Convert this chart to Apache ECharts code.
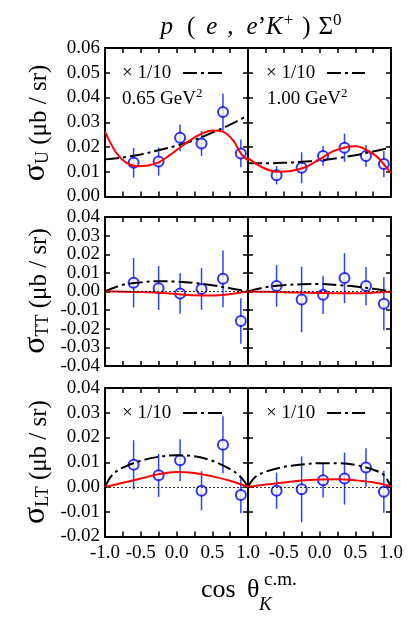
<!DOCTYPE html>
<html><head><meta charset="utf-8">
<script src="https://cdn.jsdelivr.net/npm/echarts@6/dist/echarts.min.js"></script>
<style>html,body{margin:0;padding:0;background:#fff}#c{width:409px;height:626px}</style>
</head><body><div id="c"></div>
<script>
// ---- data ----
const cosTheta = [-0.60, -0.25, 0.05, 0.35, 0.65, 0.90];

const uLeft     = [0.0136, 0.0141, 0.0237, 0.0214, 0.0341, 0.0174];
const uLeftErr  = [0.0060, 0.0057, 0.0054, 0.0050, 0.0075, 0.0056];
const uRight    = [0.0086, 0.0116, 0.0164, 0.0197, 0.0164, 0.0131];
const uRightErr = [0.0037, 0.0063, 0.0040, 0.0057, 0.0044, 0.0053];

const ttLeft     = [0.0047, 0.0018, -0.0011, 0.0014, 0.0068, -0.0158];
const ttLeftErr  = [0.0133, 0.0118, 0.0109, 0.0112, 0.0152, 0.0122];
const ttRight    = [0.0030, -0.0043, -0.0018, 0.0072, 0.0029, -0.0066];
const ttRightErr = [0.0112, 0.0176, 0.0103, 0.0134, 0.0103, 0.0142];

const ltLeft     = [0.0090, 0.0047, 0.0108, -0.0015, 0.0171, -0.0032];
const ltLeftErr  = [0.0099, 0.0087, 0.0085, 0.0079, 0.0115, 0.0074];
const ltRight    = [-0.0015, -0.0009, 0.0027, 0.0034, 0.0079, -0.0019];
const ltRightErr = [0.0073, 0.0133, 0.0069, 0.0105, 0.0078, 0.0085];

// model curves (read at sample points)
const curveX9  = [-1, -0.75, -0.5, -0.25, 0, 0.25, 0.5, 0.75, 1];
const curveX11 = [-1, -0.9, -0.75, -0.5, -0.25, 0, 0.25, 0.5, 0.75, 0.9, 1];

const uLeftRedX  = [-1, -0.85, -0.7, -0.55, -0.4, -0.25, -0.1, 0.05, 0.2, 0.35, 0.5, 0.65, 0.8, 0.9, 1.0];
const uLeftRed   = [0.0262, 0.0180, 0.0136, 0.0122, 0.0125, 0.0138, 0.0166, 0.0198, 0.0229, 0.0254, 0.0267, 0.0262, 0.0224, 0.0174, 0.0145];
const uLeftBlack = [0.0150, 0.0158, 0.0170, 0.0187, 0.0205, 0.0228, 0.0258, 0.0290, 0.0328];

const uRightRedX  = [-1, -0.8, -0.6, -0.4, -0.2, 0, 0.2, 0.4, 0.5, 0.6, 0.8, 0.9, 1.0];
const uRightRed   = [0.0155, 0.0118, 0.0100, 0.0103, 0.0118, 0.0150, 0.0184, 0.0201, 0.0203, 0.0197, 0.0162, 0.0130, 0.0094];
const uRightBlack = [0.0134, 0.0134, 0.0136, 0.0140, 0.0146, 0.0155, 0.0167, 0.0182, 0.0198];

const ttLeftRed    = [0, -0.0001, -0.0003, -0.0007, -0.0014, -0.0020, -0.0022, -0.0014, 0];
const ttLeftBlack  = [0, 0.0036, 0.0049, 0.0055, 0.0053, 0.0046, 0.0033, 0.0018, 0];
const ttRightRed   = [0, -0.0002, -0.0004, -0.0006, -0.0008, -0.0009, -0.0009, -0.0006, 0];
const ttRightBlack = [0, 0.0023, 0.0034, 0.0039, 0.0040, 0.0035, 0.0027, 0.0015, 0];

const ltLeftRed    = [0, 0.0017, 0.0034, 0.0052, 0.0061, 0.0057, 0.0043, 0.0025, 0];
const ltRightRed   = [0, 0.0010, 0.0018, 0.0026, 0.0030, 0.0031, 0.0027, 0.0019, 0.0003];
const ltLeftBlack  = [0, 0.0048, 0.0078, 0.0106, 0.0122, 0.0128, 0.0124, 0.0106, 0.0072, 0.0040, 0];
const ltRightBlack = [0, 0.0040, 0.0062, 0.0081, 0.0091, 0.0096, 0.0096, 0.0089, 0.0070, 0.0048, 0];

const yRanges = [[0, 0.06], [-0.04, 0.04], [-0.02, 0.04]];
const xTickLabels = ['-1.0', '-0.5', '0.0', '0.5', '1.0'];

// ---- chart ----
const FONT = '"Liberation Serif", "Times New Roman", serif';
const chart = echarts.init(document.getElementById('c'), null, {renderer: 'canvas'});

const rows = [{top: 48, height: 148.5}, {top: 217, height: 149}, {top: 388, height: 148.5}];
const cols = [{left: 105, width: 143}, {left: 248, width: 143}];

const zip = (xs, ys) => xs.map((x, i) => [x, ys[i]]);

const panels = [
  {pts: uLeft,  err: uLeftErr,  red: zip(uLeftRedX, uLeftRed),   black: zip(curveX9, uLeftBlack),   zero: false},
  {pts: uRight, err: uRightErr, red: zip(uRightRedX, uRightRed), black: zip(curveX9, uRightBlack),  zero: false},
  {pts: ttLeft, err: ttLeftErr, red: zip(curveX9, ttLeftRed),    black: zip(curveX9, ttLeftBlack),  zero: true},
  {pts: ttRight,err: ttRightErr,red: zip(curveX9, ttRightRed),   black: zip(curveX9, ttRightBlack), zero: true},
  {pts: ltLeft, err: ltLeftErr, red: zip(curveX9, ltLeftRed),    black: zip(curveX11, ltLeftBlack), zero: true},
  {pts: ltRight,err: ltRightErr,red: zip(curveX9, ltRightRed),   black: zip(curveX11, ltRightBlack),zero: true}
];

const grid = [], xAxis = [], yAxis = [], series = [], extraY = [];
const axisLine = {onZero: false, lineStyle: {color: '#000', width: 2}};
const tick = {inside: true, length: 5, lineStyle: {color: '#000', width: 1.5}};
const xFmt = v => {
  const k = Math.round(v * 2);
  if (Math.abs(v * 2 - k) > 1e-6) return '';
  return xTickLabels[k + 2];
};
const yFmt = v => (Math.abs(v) < 1e-9 ? '0.00' : v.toFixed(2));
const yLabelStyle = {formatter: yFmt, fontFamily: FONT, fontSize: 19, color: '#000', margin: 5};

for (let r = 0; r < 3; r++) {
  for (let c = 0; c < 2; c++) {
    const g = r * 2 + c;
    grid.push({left: cols[c].left, width: cols[c].width, top: rows[r].top, height: rows[r].height, show: false});
    const xBase = {gridIndex: g, type: 'value', min: -1, max: 1, interval: 0.25,
      axisLine, axisTick: tick, splitLine: {show: false}};
    xAxis.push(Object.assign({}, xBase, {position: 'bottom',
      axisLabel: {show: r === 2, showMinLabel: c === 0, showMaxLabel: true, hideOverlap: false, formatter: xFmt,
        fontFamily: FONT, fontSize: 19, color: '#000', margin: 7}}));
    xAxis.push(Object.assign({}, xBase, {position: 'top', axisLabel: {show: false}}));
    const yBase = {gridIndex: g, type: 'value', min: yRanges[r][0], max: yRanges[r][1], interval: 0.01,
      axisLine, axisTick: tick, splitLine: {show: false}};
    const tight = (r === 1);
    yAxis.push(Object.assign({}, yBase, {position: 'left',
      axisLabel: Object.assign({show: c === 0, showMinLabel: !tight, showMaxLabel: !tight, hideOverlap: false}, yLabelStyle)}));
    yAxis.push(Object.assign({}, yBase, {position: 'right', axisLabel: {show: false}}));
    if (tight && c === 0) {
      // separate label-only axis for the end values of the tightly spaced middle row
      extraY.push({gridIndex: g, type: 'value', position: 'left', min: yRanges[r][0], max: yRanges[r][1],
        interval: yRanges[r][1] - yRanges[r][0],
        axisLine: {show: false, onZero: false}, axisTick: {show: false}, splitLine: {show: false},
        axisLabel: Object.assign({show: true, showMinLabel: true, showMaxLabel: true}, yLabelStyle)});
    }

    const p = panels[g];
    const ax = {xAxisIndex: 2 * g, yAxisIndex: 2 * g};
    if (p.zero) {
      series.push(Object.assign({type: 'line', data: [], silent: true,
        markLine: {silent: true, symbol: 'none', label: {show: false},
          lineStyle: {color: '#000', width: 0.8, type: [2, 2]}, data: [{yAxis: 0}]}}, ax));
    }
    series.push(Object.assign({type: 'line', data: p.black, smooth: 0.35, showSymbol: false, silent: true,
      lineStyle: {color: '#000', width: 2, type: [14, 4, 3, 4]}}, ax));
    series.push(Object.assign({type: 'line', data: p.red, smooth: 0.35, showSymbol: false, silent: true,
      lineStyle: {color: '#ff0000', width: 2}}, ax));
    series.push(Object.assign({type: 'custom', silent: true,
      data: cosTheta.map((x, i) => [x, p.pts[i], p.err[i]]),
      encode: {x: 0, y: 1},
      renderItem: (params, api) => {
        const x = api.value(0), y = api.value(1), e = api.value(2);
        const a = api.coord([x, y - e]), b = api.coord([x, y + e]);
        return {type: 'line', shape: {x1: a[0], y1: a[1], x2: b[0], y2: b[1]},
          style: {stroke: '#2a45ff', lineWidth: 1.5}};
      }}, ax));
    series.push(Object.assign({type: 'scatter', data: zip(cosTheta, p.pts), symbol: 'circle', symbolSize: 10,
      silent: true, itemStyle: {color: '#fff', borderColor: '#0000ff', borderWidth: 2}}, ax));
  }
}
extraY.forEach(a => yAxis.push(a));

const txt = (x, y, rich, text, extra) => Object.assign({type: 'text', x, y, silent: true,
  style: Object.assign({text, rich, fill: '#000', textAlign: 'left', textVerticalAlign: 'middle', font: '19px ' + FONT}, extra || {})});

const rich19 = {
  a: {fontFamily: FONT, fontSize: 19, lineHeight: 22, verticalAlign: 'bottom'},
  s: {fontFamily: FONT, fontSize: 13, lineHeight: 13, verticalAlign: 'top'}
};
const dashLine = (x1, x2, y) => ({type: 'line', silent: true, shape: {x1, y1: y, x2, y2: y},
  style: {stroke: '#000', lineWidth: 2, lineDash: [14, 4, 3, 4]}});

const yTitle = (y, sub) => ({type: 'text', x: 35, y, rotation: Math.PI / 2, silent: true,
  style: {text: '{s|σ}{u|' + sub + '}{t| (μb / sr)}', textAlign: 'center', textVerticalAlign: 'middle',
    rich: {
      s: {fontFamily: FONT, fontSize: 32, lineHeight: 34, verticalAlign: 'bottom', fill: '#000'},
      u: {fontFamily: FONT, fontSize: 18, lineHeight: 18, verticalAlign: 'bottom', fill: '#000'},
      t: {fontFamily: FONT, fontSize: 25, lineHeight: 30, verticalAlign: 'bottom', fill: '#000'}
    }}});

const tStyle = (italic, pad) => ({fontFamily: FONT, fontStyle: italic ? 'italic' : 'normal', fontSize: 25,
  lineHeight: 28, verticalAlign: 'bottom', fill: '#000', padding: pad});
const graphic = [
  {type: 'text', x: 251, y: 26, silent: true,
    style: {text: '{p|p}{a|(}{e|e}{c|,}{e|e}{n|’}{k|K}{s|+}{b|)}{n|Σ}{s|0}', textAlign: 'center', textVerticalAlign: 'middle',
      rich: {
        p: tStyle(true, [0, 14, 0, 0]),
        a: tStyle(false, [0, 11, 0, 0]),
        e: tStyle(true, [0, 0, 0, 0]),
        c: tStyle(false, [0, 13, 0, 10]),
        n: tStyle(false, [0, 0, 0, 0]),
        k: tStyle(true, [0, 1, 0, 0]),
        b: tStyle(false, [0, 8, 0, 9]),
        s: {fontFamily: FONT, fontSize: 17, lineHeight: 17, verticalAlign: 'top', fill: '#000'}
      }}},
  yTitle(123, 'U'), yTitle(291, 'TT'), yTitle(462, 'LT'),
  // x title
  {type: 'text', x: 201, y: 603, silent: true, style: {text: 'cos', font: '26px ' + FONT, fill: '#000', textAlign: 'left', textVerticalAlign: 'bottom'}},
  {type: 'text', x: 247, y: 603, silent: true, style: {text: 'θ', font: '26px ' + FONT, fill: '#000', textAlign: 'left', textVerticalAlign: 'bottom'}},
  {type: 'text', x: 264, y: 580, silent: true, style: {text: 'c.m.', font: '19px ' + FONT, fill: '#000', textAlign: 'left', textVerticalAlign: 'middle'}},
  {type: 'text', x: 259, y: 605, silent: true, style: {text: 'K', font: 'italic 19px ' + FONT, fill: '#000', textAlign: 'left', textVerticalAlign: 'middle'}},
  // legends
  txt(122, 73, null, '× 1/10'), dashLine(183, 222, 73),
  txt(122, 98, rich19, '{a|0.65 GeV}{s|2}'),
  txt(266, 73, null, '× 1/10'), dashLine(327, 365, 73),
  txt(267, 98, rich19, '{a|1.00 GeV}{s|2}'),
  txt(122, 413, null, '× 1/10'), dashLine(183, 222, 413),
  txt(266, 413, null, '× 1/10'), dashLine(327, 365, 413)
];

chart.setOption({animation: false, backgroundColor: '#fff', grid, xAxis, yAxis, series, graphic});
</script></body></html>
